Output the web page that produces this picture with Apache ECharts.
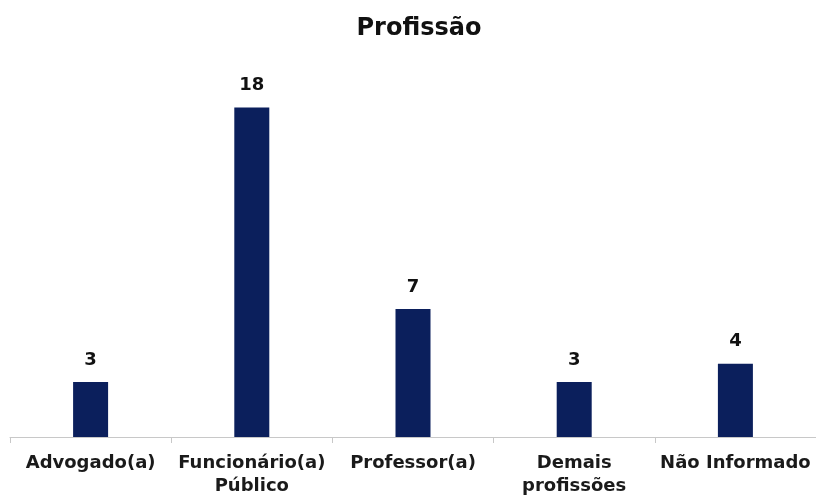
<!DOCTYPE html>
<html>
<head>
<meta charset="utf-8">
<script src="https://cdn.jsdelivr.net/npm/echarts@6/dist/echarts.min.js"></script>
<style>html,body{margin:0;padding:0;background:#fff}#c{width:816px;height:500px}</style>
</head>
<body>
<div id="c"></div>
<script>
const titleText = 'Profissão';
const categories = ['Advogado(a)', 'Funcionário(a)\nPúblico', 'Professor(a)', 'Demais\nprofissões', 'Não Informado'];
const values = [3, 18, 7, 3, 4];

const FONT = '"DejaVu Sans", Arial, sans-serif';
const chart = echarts.init(document.getElementById('c'), null, {renderer: 'canvas'});
chart.setOption({
  animation: false,
  backgroundColor: '#ffffff',
  title: {
    text: titleText,
    left: 414, top: 12, textAlign: 'center',
    textStyle: {fontFamily: FONT, fontWeight: 'bold', fontSize: 24, color: '#111'}
  },
  grid: {left: 10, right: 0, top: 71, bottom: 63, containLabel: false},
  xAxis: {
    type: 'category',
    data: categories,
    axisLine: {lineStyle: {color: '#c8c8c8', width: 1}},
    axisTick: {show: true, length: 6, lineStyle: {color: '#c8c8c8'}},
    axisLabel: {
      interval: 0, margin: 15, lineHeight: 23,
      fontFamily: FONT, fontWeight: 'bold', fontSize: 18, color: '#1a1a1a'
    }
  },
  yAxis: {type: 'value', min: 0, max: 20, show: false, splitLine: {show: false}},
  series: [{
    type: 'bar',
    data: values,
    barWidth: 35,
    itemStyle: {color: '#0b1f5c'},
    label: {
      show: true, position: 'top', distance: 13,
      fontFamily: FONT, fontWeight: 'bold', fontSize: 18, color: '#111'
    }
  }]
});
</script>
</body>
</html>
